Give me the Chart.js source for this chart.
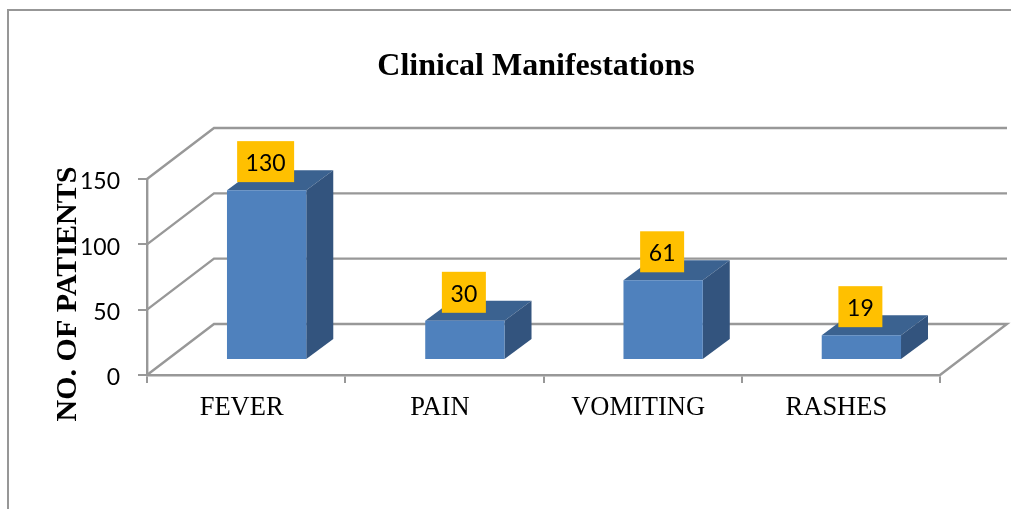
<!DOCTYPE html>
<html>
<head>
<meta charset="utf-8">
<title>Clinical Manifestations</title>
<script src="https://cdn.jsdelivr.net/npm/chart.js@4/dist/chart.umd.min.js"></script>
<style>
    html, body { margin: 0; padding: 0; background: #fff; overflow: hidden; }
    #frame { position: absolute; left: 7px; top: 9px; right: 0; bottom: 0; border-left: 2px solid #979797; border-top: 2px solid #979797; }
    canvas { position: absolute; left: 0; top: 0; }
</style>
</head>
<body>
<div id="frame"></div>
<canvas id="chart" width="1011" height="509"></canvas>
<script>
const categories = ['FEVER', 'PAIN', 'VOMITING', 'RASHES'];
const patients = [130, 30, 61, 19];
const yTicks = [0, 50, 100, 150];
const chartTitle = 'Clinical Manifestations';
const yTitle = 'NO. OF PATIENTS';

const GRID = '#989898';
const SERIF = '"Liberation Serif", serif';

// fake 3D: how far the back wall sits from the front axis, and how far the bars are pushed in
const WALL = { dx: 67, dy: -51 };
const BAR_SHIFT = { dx: 20.5, dy: -15 };
const BAR_DEPTH = { dx: 27, dy: -20 };

function poly(ctx, pts, fill) {
    ctx.beginPath();
    pts.forEach(function(p, i) {
        if (i === 0) ctx.moveTo(p[0], p[1]); else ctx.lineTo(p[0], p[1]);
    });
    ctx.closePath();
    ctx.fillStyle = fill;
    ctx.fill();
}

const walls = {
    id: 'walls',
    beforeDatasetsDraw(chart) {
        const ctx = chart.ctx, area = chart.chartArea, y = chart.scales.y;
        ctx.save();
        ctx.strokeStyle = GRID;
        ctx.lineWidth = 2.4;
        yTicks.forEach(function(v) {
            const py = y.getPixelForValue(v);
            ctx.beginPath();
            ctx.moveTo(area.left, py);
            ctx.lineTo(area.left + WALL.dx, py + WALL.dy);
            ctx.lineTo(area.right + WALL.dx, py + WALL.dy);
            if (v === 0) ctx.lineTo(area.right, py);
            ctx.stroke();
        });
        ctx.restore();
    }
};

const bars3d = {
    id: 'bars3d',
    beforeDatasetDraw(chart) {
        const ctx = chart.ctx;
        ctx.save();
        ctx.translate(BAR_SHIFT.dx, BAR_SHIFT.dy);
        chart.getDatasetMeta(0).data.forEach(function(bar) {
            const l = bar.x - bar.width / 2, r = bar.x + bar.width / 2;
            const d = BAR_DEPTH;
            poly(ctx, [[l, bar.y], [l + d.dx, bar.y + d.dy], [r + d.dx, bar.y + d.dy], [r, bar.y]], '#3b6290');
            poly(ctx, [[r, bar.y], [r + d.dx, bar.y + d.dy], [r + d.dx, bar.base + d.dy], [r, bar.base]], '#33547e');
        });
    },
    afterDatasetDraw(chart) {
        chart.ctx.restore();
    },
    afterDatasetsDraw(chart) {
        // yellow value boxes and the two titles
        const ctx = chart.ctx;
        ctx.save();
        ctx.textAlign = 'center';
        ctx.textBaseline = 'middle';
        chart.getDatasetMeta(0).data.forEach(function(bar, i) {
            const cx = bar.x + BAR_SHIFT.dx - 1, cy = bar.y + BAR_SHIFT.dy - 28.5;
            const text = String(patients[i]);
            const w = text.length === 3 ? 57 : 44;
            ctx.fillStyle = '#ffc000';
            ctx.fillRect(cx - w / 2, cy - 20.5, w, 41);
            ctx.fillStyle = '#000';
            ctx.font = '23px Lato';
            ctx.fillText(text, cx, cy + 2);
        });
        ctx.textBaseline = 'alphabetic';
        ctx.fillStyle = '#000';
        ctx.font = 'bold 32px ' + SERIF;
        ctx.fillText(chartTitle, 536, 75);
        ctx.translate(76, 294);
        ctx.rotate(-Math.PI / 2);
        ctx.font = 'bold 30px ' + SERIF;
        ctx.fillText(yTitle, 0, 0);
        ctx.restore();
    }
};

new Chart(document.getElementById('chart').getContext('2d'), {
    type: 'bar',
    data: {
        labels: categories,
        datasets: [{
            data: patients,
            backgroundColor: '#4f81bd',
            borderWidth: 0,
            barPercentage: 0.4,
            categoryPercentage: 1,
            clip: false
        }]
    },
    options: {
        responsive: false,
        animation: false,
        layout: { padding: { left: 0, top: 179, right: 71, bottom: 0 } },
        plugins: {
            legend: { display: false },
            title: { display: false },
            tooltip: { enabled: false }
        },
        scales: {
            x: {
                afterFit(scale) { scale.height = 134; },
                grid: { drawOnChartArea: false, color: GRID, lineWidth: 2, tickLength: 8 },
                border: { color: GRID, width: 2.4 },
                ticks: {
                    color: '#000',
                    font: { family: SERIF, size: 26.5 },
                    labelOffset: -4.5,
                    padding: 9,
                    maxRotation: 0
                }
            },
            y: {
                min: 0,
                max: 150,
                afterFit(scale) { scale.width = 147; },
                grid: { drawOnChartArea: false, color: GRID, lineWidth: 2, tickLength: 9 },
                border: { color: GRID, width: 2.4 },
                ticks: {
                    stepSize: 50,
                    color: '#000',
                    font: { family: 'Lato', size: 23 },
                    padding: 18,
                    labelOffset: 3
                }
            }
        }
    },
    plugins: [walls, bars3d]
});
</script>
</body>
</html>
